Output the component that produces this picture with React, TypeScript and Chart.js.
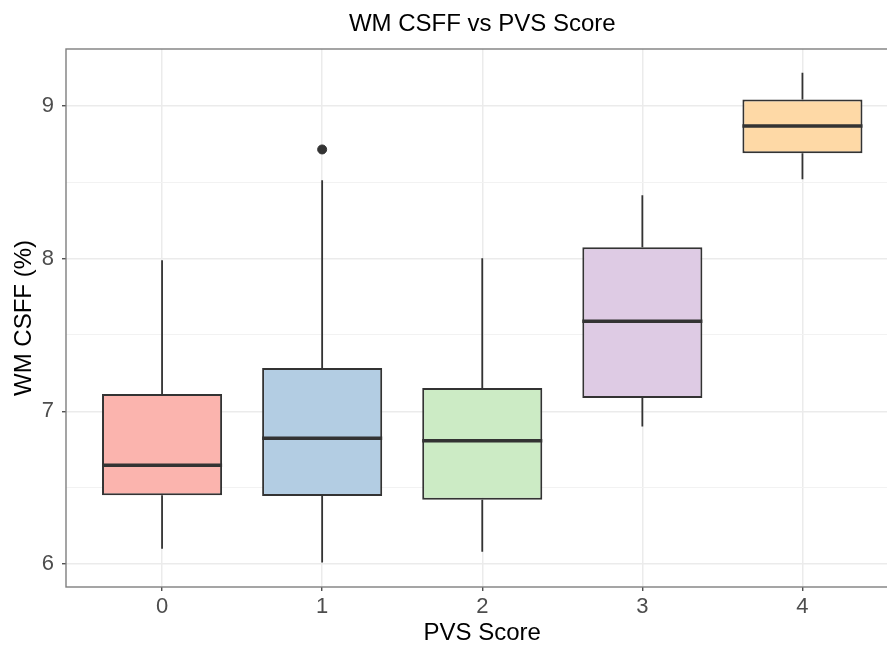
import React, { useEffect, useRef } from 'react';
import { Chart, registerables } from 'chart.js';

Chart.register(...registerables);

// ---- data ----
const categories = [0, 1, 2, 3, 4];
const whiskerLow = [6.10, 6.01, 6.08, 6.90, 8.52];
const q1 = [6.45, 6.445, 6.42, 7.087, 8.69];
const medians = [6.647, 6.824, 6.807, 7.589, 8.868];
const q3 = [7.113, 7.283, 7.152, 8.074, 9.043];
const whiskerHigh = [7.99, 8.513, 8.003, 8.415, 9.218];
const outlierCategory = [1];
const outlierValue = [8.715];
const yTicks = [6, 6.5, 7, 7.5, 8, 8.5, 9];
const xTicks = [0, 1, 2, 3, 4];

const boxColors = ['#FBB4AE', '#B3CDE3', '#CCEBC5', '#DECBE4', '#FED9A6'];
const BOX_WIDTH = 0.75;
const INK = '#333333';
const FONT = "'Liberation Sans', Arial, Helvetica, sans-serif";

const panelBorder = {
  id: 'panelBorder',
  afterDatasetsDraw(chart: any) {
    const { ctx, chartArea } = chart;
    ctx.save();
    ctx.strokeStyle = '#7f7f7f';
    ctx.lineWidth = 1.4;
    ctx.strokeRect(chartArea.left, chartArea.top, chartArea.right - chartArea.left, chartArea.bottom - chartArea.top);
    ctx.restore();
  },
};

export default function App() {
  const ref = useRef<HTMLCanvasElement | null>(null);

  useEffect(() => {
    if (!ref.current) return;

    const boxes = categories.map((c, i) => ({ x: c, y: [q1[i], q3[i]] }));
    const whiskers: any[] = [];
    categories.forEach((c, i) => {
      whiskers.push({ x: c, y: q3[i] }, { x: c, y: whiskerHigh[i] }, { x: c, y: null });
      whiskers.push({ x: c, y: whiskerLow[i] }, { x: c, y: q1[i] }, { x: c, y: null });
    });
    const medianSegs: any[] = [];
    categories.forEach((c, i) => {
      medianSegs.push(
        { x: c - BOX_WIDTH / 2, y: medians[i] },
        { x: c + BOX_WIDTH / 2, y: medians[i] },
        { x: c, y: null }
      );
    });
    const outliers = outlierCategory.map((c, i) => ({ x: c, y: outlierValue[i] }));

    const chart = new Chart(ref.current, {
      type: 'bar',
      data: {
        datasets: [
          {
            type: 'scatter',
            data: outliers,
            backgroundColor: INK,
            borderColor: INK,
            pointRadius: 4.5,
            order: 0,
          } as any,
          {
            type: 'line',
            data: medianSegs,
            borderColor: INK,
            borderWidth: 3.5,
            borderCapStyle: 'butt',
            pointRadius: 0,
            spanGaps: false,
            order: 1,
          } as any,
          {
            type: 'bar',
            data: boxes,
            backgroundColor: boxColors,
            borderColor: INK,
            borderWidth: 2,
            borderSkipped: false,
            categoryPercentage: 1,
            barPercentage: BOX_WIDTH,
            order: 2,
          } as any,
          {
            type: 'line',
            data: whiskers,
            borderColor: INK,
            borderWidth: 1.8,
            borderCapStyle: 'butt',
            pointRadius: 0,
            spanGaps: false,
            order: 3,
          } as any,
        ],
      },
      options: {
        animation: false,
        responsive: false,
        devicePixelRatio: 1,
        layout: { padding: { left: 0, right: 2, top: 0, bottom: 0 } },
        plugins: {
          legend: { display: false },
          tooltip: { enabled: false },
          title: {
            display: true,
            text: 'WM CSFF vs PVS Score',
            fullSize: false,
            color: '#000000',
            font: { family: FONT, size: 24, weight: 'normal', lineHeight: 1.2 },
            padding: { top: 9.6, bottom: 10.6 },
          },
        },
        scales: {
          x: {
            type: 'linear',
            min: -0.6,
            max: 4.6,
            offset: false,
            afterBuildTicks: (scale: any) => {
              scale.ticks = xTicks.map((v) => ({ value: v }));
            },
            afterFit: (scale: any) => {
              scale.height = 59;
            },
            grid: {
              offset: false,
              color: '#EBEBEB',
              lineWidth: 1.5,
              tickColor: INK,
              tickLength: 4,
              tickWidth: 1.2,
            },
            border: { display: false },
            ticks: {
              color: '#4D4D4D',
              font: { family: FONT, size: 22 },
              padding: 3,
              maxRotation: 0,
              callback: (v: any) => String(v),
            },
            title: {
              display: true,
              text: 'PVS Score',
              color: '#000000',
              font: { family: FONT, size: 24, lineHeight: 1.0 },
              padding: { top: 0, bottom: 1 },
            },
          },
          y: {
            type: 'linear',
            min: 5.849,
            max: 9.373,
            afterBuildTicks: (scale: any) => {
              scale.ticks = yTicks.map((v) => ({ value: v }));
            },
            afterFit: (scale: any) => {
              scale.width = 66;
            },
            grid: {
              color: (ctx: any) => (ctx.tick && Number.isInteger(ctx.tick.value) ? '#EBEBEB' : '#F2F2F2'),
              lineWidth: (ctx: any) => (ctx.tick && Number.isInteger(ctx.tick.value) ? 1.5 : 1),
              tickColor: (ctx: any) => (ctx.tick && Number.isInteger(ctx.tick.value) ? INK : 'rgba(0,0,0,0)'),
              tickLength: 4,
              tickWidth: 1.2,
            },
            border: { display: false },
            ticks: {
              color: '#4D4D4D',
              font: { family: FONT, size: 22 },
              padding: 8,
              callback: (v: any) => (Number.isInteger(v) ? String(v) : ''),
            },
            title: {
              display: true,
              text: 'WM CSFF (%)',
              color: '#000000',
              font: { family: FONT, size: 24, lineHeight: 1.2 },
              padding: { top: 9.6, bottom: 0 },
            },
          },
        },
      },
      plugins: [panelBorder],
    });

    return () => chart.destroy();
  }, []);

  return (
    <div
      style={{
        position: 'fixed',
        left: 0,
        top: 0,
        width: 887,
        height: 646,
        overflow: 'hidden',
        background: '#ffffff',
      }}
    >
      <canvas ref={ref} width={904} height={646} style={{ width: 904, height: 646, display: 'block' }} />
    </div>
  );
}
